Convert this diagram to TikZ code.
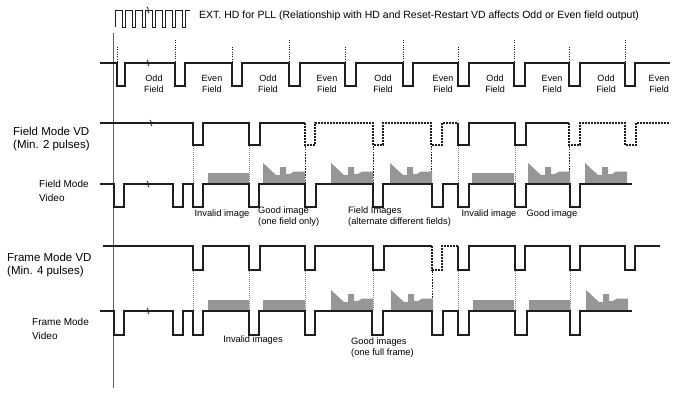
\documentclass[tikz,border=0pt]{standalone}
\usepackage{fontspec}
\setmainfont{Liberation Sans}
\definecolor{wavec}{RGB}{30,30,30}
\definecolor{imgc}{RGB}{150,150,150}
\definecolor{axisc}{RGB}{100,100,100}
\newcommand\flatimg[3]{\fill[imgc] (#1,#3) rectangle (#2,#3-11);}
\newcommand\goodimg[2]{\fill[imgc] (#1,#2) -- (#1,#2-21) -- (#1+13,#2-9) -- (#1+17,#2-9) -- (#1+17,#2-17) -- (#1+23,#2-17) -- (#1+23,#2-10) -- (#1+27,#2-10) -- (#1+31,#2-12.5) -- (#1+42,#2-12.5) -- (#1+42,#2) -- cycle;}
\newcommand\brk[2]{\draw[wavec, line width=0.9pt] (#1-1,#2-3) .. controls (#1+1.5,#2-1.5) and (#1-1.5,#2+1.5) .. (#1+1,#2+3);}
\begin{document}
\begin{tikzpicture}[x=1pt,y=-1pt,
  wave/.style={draw=wavec, line width=1.1pt, line join=miter},
  dwave/.style={wave, dash pattern=on 1.8pt off 1.2pt},
  gguide/.style={draw=wavec!55, line width=0.8pt, dash pattern=on 1pt off 1pt},
  dguide/.style={draw=wavec, line width=0.9pt, dash pattern=on 1.6pt off 1.2pt},
  tguide/.style={draw=wavec, line width=0.8pt, dash pattern=on 1pt off 1.3pt},
  lbl/.style={font=\fontsize{11.5}{13}\selectfont, align=left, anchor=west, inner sep=0pt},
  vlbl/.style={font=\fontsize{10}{14}\selectfont, align=left, anchor=west, inner sep=0pt},
  fld/.style={font=\fontsize{9}{11}\selectfont, align=center, inner sep=0pt},
  note/.style={font=\fontsize{9.3}{11}\selectfont, inner sep=0pt}]
\useasboundingbox (0,0) rectangle (675,392);

% axis
\draw[axisc, line width=0.9pt] (113,33) -- (113,388);

% header HD train
\draw[wave, line width=0.9pt] (115,27) \foreach \k in {0,...,6} { -- (115+10*\k,27) -- (115+10*\k,10) -- (122.5+10*\k,10) -- (122.5+10*\k,27)} -- (185,27) -- (185,10) -- (190,10);
\brk{148}{10}
\node[font=\fontsize{10.5}{12}\selectfont, anchor=west, inner sep=0pt] (hdr) at (199,16) {EXT. HD for PLL (Relationship with HD and Reset-Restart VD affects Odd or Even field output)};

% row 1: odd / even fields
\foreach \p in {117,232,345,458,569} \draw[tguide] (\p,47) -- (\p,63);
\foreach \p in {175,289,403,514,625} \draw[tguide] (\p,40) -- (\p,63);
\draw[wave] (100,63) \foreach \p/\w in {117/8,175/10,232/10,289/11,345/11,403/10,458/11,514/11,569/11,625/10} { -- (\p,63) -- (\p,86) -- (\p+\w,86) -- (\p+\w,63)} -- (670,63);
\brk{148}{63}
\foreach \x/\t [count=\i] in {154/Odd,212/Even,268/Odd,327/Even,383/Odd,443/Even,495/Odd,552/Even,606/Odd,659/Even}
  \node[fld] (f\i) at (\x,84) {\t\\Field};

% row 2: field mode VD
\node[lbl] (fvd) at (13,139.5) {Field Mode VD\\(Min. 2 pulses)};
\draw[wave] (100,123) -- (193,123) -- (193,145) -- (203,145) -- (203,123) -- (249,123) -- (249,145) -- (260,145) -- (260,123) -- (305,123);
\draw[dwave] (305,123) -- (305,145) -- (315,145) -- (315,123) -- (373,123) -- (373,145) -- (383,145) -- (383,123) -- (431,123) -- (431,145) -- (442,145) -- (442,123) -- (458,123);
\draw[wave] (458,123) -- (458,145) -- (469,145) -- (469,123) -- (515,123) -- (515,145) -- (526,145) -- (526,123) -- (569,123);
\draw[dwave] (569,123) -- (569,145) -- (580,145) -- (580,123) -- (625,123) -- (625,145) -- (636,145) -- (636,123) -- (670,123);
\brk{151}{123}
\foreach \p in {193,249,458,515} \draw[gguide] (\p,146) -- (\p,184);
\foreach \p in {305,373,431,569} \draw[dguide] (\p,146) -- (\p,184);

% row 3: field mode video
\node[vlbl] (fvid) at (39,190.5) {Field Mode\\Video};
\flatimg{208}{249}{184}
\goodimg{263}{184}
\goodimg{331}{184}
\goodimg{390}{184}
\flatimg{472}{514}{184}
\goodimg{528}{184}
\goodimg{585}{184}
\draw[wave] (100,184) \foreach \p/\w in {114/10,173/10,193/10,249/10,305/11,373/10,432/11,458/11,515/11,570/10} { -- (\p,184) -- (\p,207) -- (\p+\w,207) -- (\p+\w,184)} -- (632,184);
\brk{148}{184}
\node[note] (n1) at (222,214) {Invalid image};
\node[note, anchor=west, align=left] (n2) at (258,216.5) {Good image\\(one field only)};
\node[note, anchor=west, align=left] (n3) at (348,216.5) {Field Images\\(alternate different fields)};
\node[note] (n4) at (489,214) {Invalid image};
\node[note] (n5) at (552,214) {Good image};

% row 4: frame mode VD
\node[lbl] (frvd) at (7,265) {Frame Mode VD\\(Min. 4 pulses)};
\draw[wave] (103,246) -- (193,246) -- (193,270) -- (203,270) -- (203,246) -- (249,246) -- (249,270) -- (260,270) -- (260,246) -- (305,246) -- (305,270) -- (315,270) -- (315,246) -- (373,246) -- (373,270) -- (384,270) -- (384,246) -- (432,246);
\draw[dwave] (432,246) -- (432,270) -- (442,270) -- (442,246) -- (458,246);
\draw[wave] (458,246) -- (458,270) -- (469,270) -- (469,246) -- (515,246) -- (515,270) -- (525,270) -- (525,246) -- (570,246) -- (570,270) -- (580,270) -- (580,246) -- (625,246) -- (625,270) -- (635,270) -- (635,246) -- (660,246);
\foreach \p in {193,249,305,373,458,515,570} \draw[gguide] (\p,271) -- (\p,311);
\draw[dguide] (432,271) -- (432,311);

% row 5: frame mode video
\node[vlbl] (frvid) at (32,329) {Frame Mode\\Video};
\flatimg{208}{249}{311}
\flatimg{263}{305}{311}
\goodimg{331}{311}
\goodimg{391}{311}
\flatimg{473}{514}{311}
\flatimg{529}{570}{311}
\goodimg{586}{311}
\draw[wave] (100,311) \foreach \p/\w in {114/10,173/10,193/10,249/10,305/10,372/11,432/11,458/11,515/12,570/10} { -- (\p,311) -- (\p,335) -- (\p+\w,335) -- (\p+\w,311)} -- (632,311);
\brk{148}{311}
\node[note] (n6) at (253,340) {Invalid images};
\node[note, anchor=west, align=left] (n7) at (351,347.5) {Good images\\(one full frame)};
\end{tikzpicture}
\end{document}
